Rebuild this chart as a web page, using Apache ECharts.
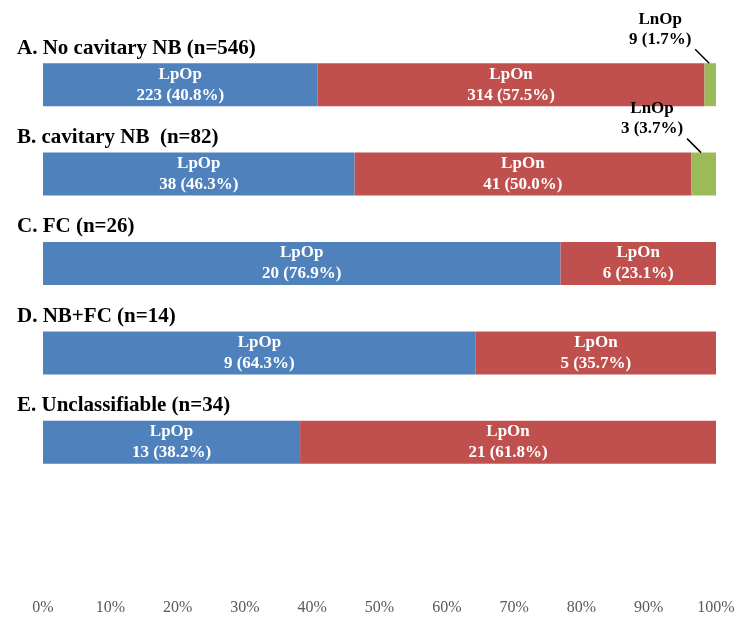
<!DOCTYPE html>
<html>
<head>
<meta charset="utf-8">
<script src="https://cdn.jsdelivr.net/npm/echarts@6/dist/echarts.min.js"></script>
<style>
  html, body { margin: 0; padding: 0; background: #fff; }
  #chart { width: 750px; height: 628px; }
</style>
</head>
<body>
<div id="chart"></div>
<script>
    // groups (drawn as titles above each bar)
    var groups = ['A. No cavitary NB (n=546)', 'B. cavitary NB  (n=82)', 'C. FC (n=26)', 'D. NB+FC (n=14)', 'E. Unclassifiable (n=34)']

    var lpopCount = [223, 38, 20, 9, 13]
    var lpopPct = [40.8, 46.3, 76.9, 64.3, 38.2]
    var lponCount = [314, 41, 6, 5, 21]
    var lponPct = [57.5, 50.0, 23.1, 35.7, 61.8]
    var lnopCount = [9, 3, 0, 0, 0]
    var lnopPct = [1.7, 3.7, 0, 0, 0]

    var xTicks = [0, 10, 20, 30, 40, 50, 60, 70, 80, 90, 100]

    var serif = '"Liberation Serif", "Times New Roman", serif'
    var barH = 43

    var chart = echarts.init(document.getElementById('chart'))

    function inside(name, counts, pcts) {
        return {
            show: true,
            position: 'inside',
            color: '#fff',
            fontFamily: serif,
            fontWeight: 'bold',
            fontSize: 17,
            lineHeight: 21,
            formatter: function (p) {
                return name + '\n' + counts[p.dataIndex] + ' (' + pcts[p.dataIndex].toFixed(1) + '%)'
            }
        }
    }

    chart.setOption({
        animation: false,
        grid: {
            left: 43,
            right: 34,
            top: 40,
            bottom: 141
        },
        xAxis: {
            type: 'value',
            min: xTicks[0],
            max: xTicks[xTicks.length - 1],
            interval: 10,
            axisLine: { show: false },
            axisTick: { show: false },
            splitLine: { show: false },
            axisLabel: {
                margin: 113,
                color: '#595959',
                fontFamily: serif,
                fontSize: 16,
                formatter: '{value}%'
            }
        },
        yAxis: {
            type: 'category',
            inverse: true,
            data: groups,
            axisLine: { show: false },
            axisTick: { show: false },
            axisLabel: { show: false }
        },
        series: [
            {
                name: 'LpOp',
                type: 'bar',
                stack: 'all',
                barWidth: barH,
                itemStyle: { color: '#4F81BD' },
                label: inside('LpOp', lpopCount, lpopPct),
                data: lpopPct
            },
            {
                name: 'LpOn',
                type: 'bar',
                stack: 'all',
                barWidth: barH,
                itemStyle: { color: '#C0504D' },
                label: inside('LpOn', lponCount, lponPct),
                data: lponPct
            },
            {
                name: 'LnOp',
                type: 'bar',
                stack: 'all',
                barWidth: barH,
                itemStyle: { color: '#9BBB59' },
                data: lnopPct
            }
        ]
    })

    // titles and the small LnOp callouts
    var graphics = []
    groups.forEach(function (g, i) {
        var p = chart.convertToPixel({ gridIndex: 0 }, [0, i])
        var top = p[1] - barH / 2
        graphics.push({
            type: 'text',
            x: 17,
            y: top - 15,
            z: 100,
            style: {
                text: g,
                fill: '#000',
                font: 'bold 21px ' + serif,
                verticalAlign: 'middle'
            }
        })
        if (lnopCount[i] > 0) {
            var start = 100 - lnopPct[i]
            var end = chart.convertToPixel({ gridIndex: 0 }, [start + lnopPct[i] * 0.4, i])
            var sx = end[0] - 14
            var sy = top - 14
            graphics.push({
                type: 'text',
                x: sx - 35,
                y: top - 54,
                z: 100,
                style: {
                    text: 'LnOp\n' + lnopCount[i] + ' (' + lnopPct[i].toFixed(1) + '%)',
                    fill: '#000',
                    font: 'bold 17px ' + serif,
                    lineHeight: 20,
                    align: 'center',
                    verticalAlign: 'top'
                }
            })
            graphics.push({
                type: 'line',
                z: 100,
                shape: { x1: sx, y1: sy, x2: end[0], y2: top },
                style: { stroke: '#000', lineWidth: 1.5 }
            })
        }
    })
    chart.setOption({ graphic: graphics })
</script>
</body>
</html>
